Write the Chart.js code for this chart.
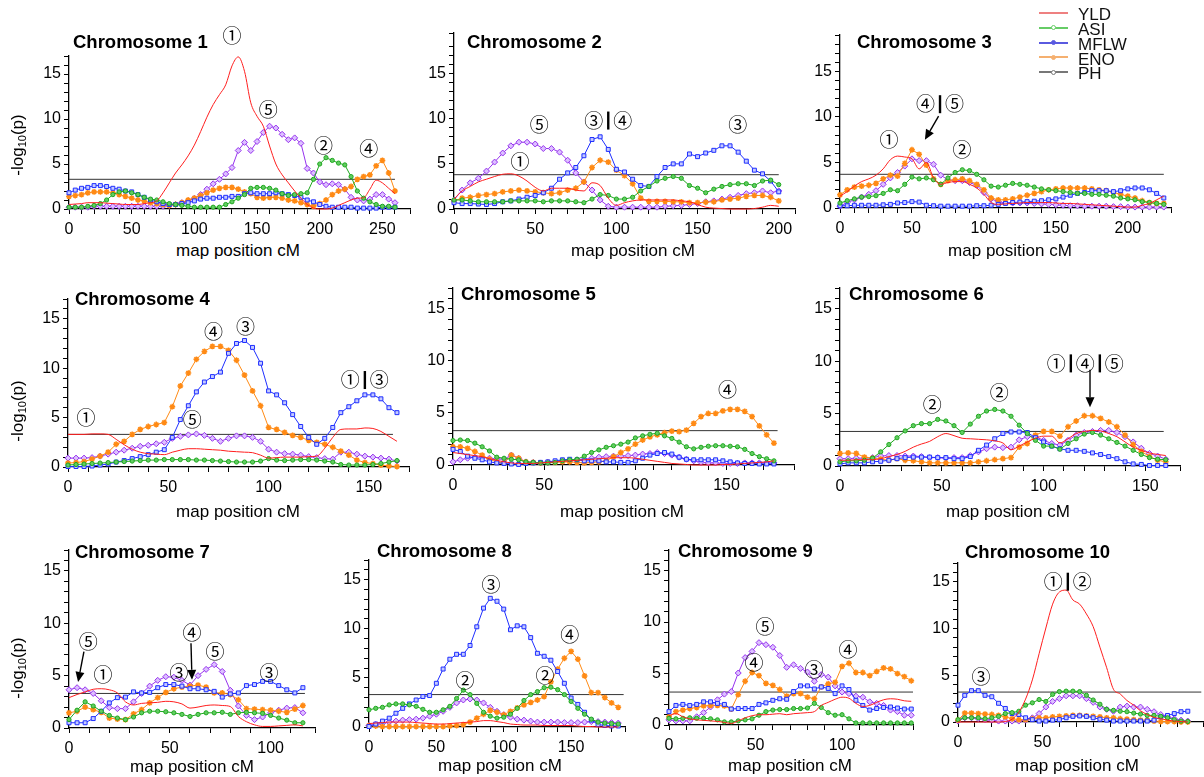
<!DOCTYPE html>
<html>
<head>
<meta charset="utf-8">
<script src="https://cdn.jsdelivr.net/npm/chart.js@4.4.1/dist/chart.umd.min.js"></script>
<style>
html, body { margin: 0; padding: 0; background: #fff; }
body { width: 1204px; height: 777px; position: relative; overflow: hidden; font-family: "Liberation Sans", Arial, sans-serif; color: #000; }
canvas { position: absolute; }
.title { position: absolute; font-weight: bold; font-size: 18.5px; line-height: 18px; white-space: nowrap; }
.xlab { position: absolute; font-size: 17px; line-height: 17px; white-space: nowrap; transform: translateX(-50%); }
.ylab { position: absolute; font-size: 17px; line-height: 17px; white-space: nowrap; transform: translate(-50%, -50%) rotate(-90deg); }
.ylab sub { font-size: 11px; vertical-align: -3px; }
.lg-line { position: absolute; height: 2px; width: 29px; }
.lg-dot { position: absolute; width: 5px; height: 5px; border-radius: 50%; box-sizing: border-box; }
.lg-text { position: absolute; font-size: 17px; line-height: 17px; color: #111; }
</style>
</head>
<body>
<script>
// traits
const traits = ['YLD', 'ASI', 'MFLW', 'ENO', 'PH'];

// chromosome 1
const chr1_cM = [0,5,10,15,20,25,30,35,40,45,50,55,60,65,70,75,80,85,90,95,100,105,110,115,120,125,130,135,140,145,150,155,160,165,170,175,180,185,190,195,200,205,210,215,220,225,230,235,240,245,250,255,260];
const chr1_YLD = [0.5,0.55,0.6,0.7,0.7,0.7,0.65,0.6,0.55,0.5, 0.5,0.5,0.6,0.7,0.9,1.8,2.9,4.0,4.9,5.9, 7.1,8.6,10.2,11.6,12.7,13.8,15.9,16.9,15.3,11.8, 10.3,9.2,7.0,5.0,3.8,2.9,2.0,1.2,0.5,0.1, 0,0,0.1,0.4,0.7,1.0,1.2,1.25,2.2,3.2, 2.9,2.3,1.7];
const chr1_ASI = [0.2,0.2,0.2,0.3,0.4,0.6,1.0,1.6,1.9,2.0, 1.8,1.6,1.3,1.1,1.0,0.8,0.6,0.5,0.4,0.3, 0.2,0.2,0.2,0.2,0.2,0.5,0.8,1.2,1.6,2.3, 2.4,2.4,2.3,2.1,1.7,1.5,1.6,1.7,1.8,3.3, 5.0,5.7,5.4,5.1,4.9,3.6,2.0,1.2,0.8,0.5, 0.3,0.3,0.2];
const chr1_MFLW = [1.8,2.1,2.3,2.4,2.6,2.6,2.5,2.3,2.2,2.0, 1.9,1.6,1.3,1.0,0.8,0.6,0.5,0.5,0.6,0.7, 0.9,1.1,1.2,1.2,1.3,1.3,1.4,1.4,1.7,1.8, 1.7,1.7,1.7,1.8,1.7,1.6,1.5,1.3,1.0,0.8, 0.5,0.3,0.2,0.2,0.2,0.2,0.1,0.1,0.1,0.1, 0.2,0.2,0.2];
const chr1_ENO = [1.4,1.5,1.6,1.8,1.9,1.9,1.9,1.8,1.6,1.4, 1.2,1.0,0.9,0.7,0.6,0.5,0.4,0.5,0.7,1.0, 1.2,1.5,1.8,2.1,2.3,2.4,2.4,2.2,1.9,1.7, 1.3,1.2,1.3,1.3,1.2,1.0,0.9,0.7,0.5,0.3, 0.6,1.0,1.6,2.0,2.2,2.5,3.3,3.6,3.8,4.8, 5.4,4.0,2.0];
const chr1_PH = [0.2,0.2,0.2,0.2,0.3,0.3,0.3,0.3,0.3,0.3, 0.3,0.3,0.3,0.3,0.3,0.3,0.4,0.5,0.7,0.9, 1.2,1.6,2.2,2.8,3.3,3.9,4.6,6.5,7.4,6.5, 7.5,8.5,9.2,9.0,8.3,7.7,7.9,7.3,4.5,4.0, 3.0,2.7,2.8,2.7,2.2,1.3,1.0,0.9,1.1,1.6, 1.6,1.1,0.7];

// chromosome 2
const chr2_cM = [0,5,10,15,20,25,30,35,40,45,50,55,60,65,70,75,80,85,90,95,100,105,110,115,120,125,130,135,140,145,150,155,160,165,170,175,180,185,190,195,200];
const chr2_YLD = [1.1,2.0,2.5,3.0,3.3,3.6,3.85,3.9,3.65,3.1, 2.4,2.0,2.3,2.3,2.3,2.1,2.0,2.9,2.6,1.2, 0.4,0.7,0.9,1.0,1.0,1.0,1.0,1.0,0.9,0.8, 0.5,0.2,0.1,0.05,0,0,0,0.05,0.2,0.4, 0.3];
const chr2_ASI = [1.0,1.0,0.9,0.8,0.8,0.8,0.8,0.9,0.9,0.9, 0.9,0.8,0.9,0.9,0.9,0.8,0.7,1.1,1.6,1.5, 1.1,1.1,1.3,2.0,2.5,3.1,3.4,3.6,3.4,2.6, 2.3,1.8,2.2,2.5,2.7,2.8,2.8,2.6,3.1,3.2, 2.7];
const chr2_MFLW = [0.7,0.6,0.6,0.55,0.5,0.6,0.8,0.9,1.1,1.3, 1.5,1.8,2.3,3.3,4.0,4.6,5.9,7.7,8.0,6.6, 4.4,4.1,3.3,2.6,2.5,3.6,4.6,5.0,5.0,6.1, 5.8,6.2,6.5,7.0,7.0,6.3,5.3,4.3,3.9,3.1, 1.9];
const chr2_ENO = [0.9,1.2,1.3,1.5,1.6,1.7,1.9,2.0,2.1,2.0, 1.9,1.8,1.7,1.8,2.1,2.3,3.0,4.6,5.4,5.2, 4.3,3.7,2.8,1.2,0.85,0.85,0.85,0.8,0.8,0.7, 0.7,0.75,0.8,1.0,1.1,1.2,1.4,1.5,1.5,1.3, 0.9];
const chr2_PH = [1.0,2.1,2.9,3.4,4.2,5.2,6.2,7.0,7.4,7.4, 7.2,6.7,6.7,6.3,5.4,4.0,3.0,2.1,1.0,0.3, 0.2,0.2,0.2,0.2,0.2,0.2,0.3,0.35,0.4,0.5, 0.6,0.8,0.9,1.1,1.3,1.5,1.7,1.8,2.0,1.8, 2.0];

// chromosome 3
const chr3_cM = [0,5,10,15,20,25,30,35,40,45,50,55,60,65,70,75,80,85,90,95,100,105,110,115,120,125,130,135,140,145,150,155,160,165,170,175,180,185,190,195,200,205,210,215,220,225];
const chr3_YLD = [1.3,1.8,2.4,2.9,3.2,3.6,4.3,5.3,5.7,5.6, 5.4,4.3,5.0,3.3,2.6,2.8,2.9,2.9,2.6,2.2, 1.5,0.6,0.4,0.45,0.5,0.55,0.6,0.6,0.6,0.6, 0.55,0.5,0.5,0.45,0.4,0.35,0.3,0.25,0.2,0.15, 0.1,0.1,0.3,0.5,0.9,1.3];
const chr3_ASI = [0.55,0.8,1.0,1.2,1.25,1.35,1.6,2.0,1.9,2.6, 3.4,3.2,3.3,3.1,2.6,3.3,3.9,4.2,4.1,3.7, 3.1,2.4,2.3,2.5,2.7,2.6,2.5,2.3,2.1,2.0, 1.9,1.8,1.7,1.6,1.6,1.5,1.5,1.4,1.3,1.1, 1.0,0.9,0.7,0.6,0.5,0.4];
const chr3_MFLW = [0.25,0.25,0.3,0.3,0.3,0.3,0.35,0.4,0.55,0.6, 0.7,0.65,0.3,0.25,0.2,0.2,0.2,0.2,0.2,0.25, 0.25,0.3,0.4,0.5,0.6,0.65,0.7,0.75,0.8,0.9, 1.0,1.2,1.4,1.6,1.7,1.9,1.9,1.9,1.8,1.9, 2.1,2.2,2.2,2.0,1.6,1.1];
const chr3_ENO = [1.45,2.0,2.3,2.4,2.5,2.7,3.2,3.6,3.5,4.9, 6.4,5.9,4.7,3.2,2.6,3.0,3.1,3.2,3.0,2.6, 2.0,1.1,0.9,0.9,1.0,1.2,1.4,1.6,1.8,2.0, 2.1,2.2,2.2,2.2,2.2,2.1,2.0,1.9,1.7,1.5, 1.3,1.1,0.8,0.6,0.5,0.5];
const chr3_PH = [0.2,0.6,0.9,1.2,1.5,1.9,2.6,3.3,3.9,4.6, 5.4,5.2,5.2,4.8,3.6,3.1,3.0,3.0,2.8,2.5, 1.7,1.0,0.7,0.55,0.55,0.55,0.55,0.5,0.45,0.4, 0.35,0.3,0.25,0.25,0.2,0.2,0.2,0.2,0.15,0.15, 0.1,0.1,0.1,0.1,0.1,0.1];

// chromosome 4
const chr4_cM = [0,4,8,12,16,20,24,28,32,36,40,44,48,52,56,60,64,68,72,76,80,84,88,92,96,100,104,108,112,116,120,124,128,132,136,140,144,148,152,156,160,164];
const chr4_YLD = [3.3,3.3,3.3,3.35,3.35,3.3,2.8,2.25,1.8,1.5, 1.35,1.3,1.25,1.5,1.7,1.85,1.85,1.8,1.75,1.7, 1.6,1.55,1.5,1.45,1.2,0.9,0.95,1.0,1.0,1.0, 1.05,1.1,1.9,3.0,3.8,3.85,3.85,3.95,3.9,3.6, 3.1,2.6];
const chr4_ASI = [0.2,0.25,0.3,0.35,0.4,0.45,0.5,0.55,0.6,0.65, 0.7,0.7,0.75,0.75,0.75,0.75,0.7,0.7,0.65,0.6, 0.55,0.5,0.5,0.5,0.6,0.85,0.7,0.65,0.7,0.75, 0.75,0.7,0.6,0.5,0.25,0.2,0.2,0.2,0.25,0.35, 0.5,0.65];
const chr4_MFLW = [0.05,0.05,0.05,0.1,0.2,0.3,0.5,0.65,0.85,1.05, 1.25,1.5,1.75,3.0,4.8,6.2,7.6,8.6,9.15,9.6, 11.5,12.5,12.8,12.1,10.5,7.7,7.3,6.5,5.3,4.1, 3.0,2.3,2.9,4.0,5.5,6.1,6.7,7.3,7.3,6.9, 6.0,5.5];
const chr4_ENO = [0.4,0.45,0.55,0.8,1.1,1.5,2.3,2.6,3.3,3.8, 4.1,4.3,4.5,6.1,8.2,9.5,10.9,11.7,12.2,12.2, 11.8,10.8,9.3,7.7,6.2,4.0,3.8,3.5,3.2,3.0, 2.7,2.5,2.3,2.0,1.6,1.2,0.7,0.45,0.35,0.2, 0.1,0.05];
const chr4_PH = [0.9,0.9,0.9,0.95,1.1,1.3,1.5,1.7,1.9,2.1, 2.2,2.35,2.5,2.9,3.1,3.25,3.35,3.2,2.9,2.6, 2.9,3.15,3.15,3.0,2.6,1.8,1.5,1.35,1.3,1.2, 1.05,0.95,0.85,0.8,1.5,1.5,1.3,1.1,1.0,0.9, 0.8,0.6];

// chromosome 5
const chr5_cM = [0,4,8,12,16,20,24,28,32,36,40,44,48,52,56,60,64,68,72,76,80,84,88,92,96,100,104,108,112,116,120,124,128,132,136,140,144,148,152,156,160,164,168,172,176];
const chr5_YLD = [1.2,1.1,1.0,0.9,0.8,0.6,0.45,0.3,0.2,0.15, 0.15,0.15,0.2,0.25,0.3,0.35,0.4,0.45,0.5,0.55, 0.6,0.65,0.7,0.7,0.7,0.65,0.55,0.45,0.35,0.25, 0.15,0.1,0.05,0,0,0,0,0.05,0.05,0.1, 0.15,0.2,0.25,0.3,0.4];
const chr5_ASI = [2.35,2.4,2.35,2.1,1.75,1.35,0.75,0.65,0.55,0.5, 0.3,0.25,0.2,0.2,0.25,0.4,0.5,0.55,0.85,1.2, 1.45,1.7,1.85,2.0,2.2,2.6,2.8,2.95,3.05,2.8, 2.55,2.2,1.75,1.55,1.7,1.8,1.85,1.85,1.8,1.75, 1.5,1.1,0.8,0.6,0.4];
const chr5_MFLW = [1.5,1.3,0.85,0.65,0.5,0.3,0.2,0.15,0.1,0.05, 0.15,0.2,0.25,0.3,0.4,0.5,0.55,0.5,0.4,0.4, 0.4,0.3,0.3,0.25,0.25,0.4,0.65,0.95,1.1,1.2, 1.05,0.75,0.55,0.5,0.5,0.5,0.5,0.4,0.3,0.2, 0.15,0.15,0.1,0.1,0.1];
const chr5_ENO = [1.75,1.75,1.6,1.3,0.95,0.55,0.3,0.2,0.95,0.65, 0.3,0.25,0.2,0.25,0.25,0.3,0.3,0.25,0.2,0.25, 0.3,0.4,0.8,1.2,1.55,2.0,2.4,2.7,2.9,3.1, 3.25,3.2,3.35,4.0,4.65,4.95,4.95,5.2,5.35,5.35, 5.15,4.65,3.75,2.9,2.1];
const chr5_PH = [0.3,0.5,0.65,0.75,0.75,0.65,0.6,0.55,0.95,0.65, 0.3,0.25,0.2,0.25,0.3,0.4,0.4,0.5,0.55,0.65, 0.75,0.8,0.85,0.85,0.9,0.95,1.05,1.1,1.2,1.1, 0.95,0.75,0.55,0.4,0.25,0.2,0.2,0.15,0.15,0.15, 0.2,0.2,0.2,0.2,0.2];

// chromosome 6
const chr6_cM = [0,4,8,12,16,20,24,28,32,36,40,44,48,52,56,60,64,68,72,76,80,84,88,92,96,100,104,108,112,116,120,124,128,132,136,140,144,148,152,156,160];
const chr6_YLD = [0.55,0.55,0.6,0.6,0.6,0.7,0.9,1.1,1.4,1.8, 2.1,2.35,2.8,3.1,2.9,2.65,2.6,2.55,2.5,2.4, 2.2,1.55,1.9,2.3,2.65,2.85,2.85,2.2,2.6,3.1, 3.3,3.4,3.35,3.1,2.8,2.3,1.8,1.5,1.25,1.1, 1.0];
const chr6_ASI = [0.4,0.5,0.5,0.55,0.75,1.35,2.05,2.7,3.35,3.85, 4.05,4.05,4.45,4.3,3.85,3.2,4.0,4.75,5.25,5.4, 5.25,4.75,3.9,3.1,2.45,1.9,1.9,1.6,2.15,2.6, 3.05,3.2,2.95,2.6,2.25,1.9,1.5,1.1,0.8,0.65, 0.6];
const chr6_MFLW = [0.2,0.3,0.3,0.3,0.4,0.45,0.55,0.7,0.8,0.85, 0.85,0.85,0.8,0.8,0.7,0.7,0.9,1.5,2.0,2.6, 3.1,3.25,3.25,3.2,2.7,2.3,1.9,1.65,1.5,1.5, 1.4,1.25,1.1,0.9,0.7,0.4,0.2,0.15,0.05,0.05, 0.05];
const chr6_ENO = [1.2,1.25,1.2,0.85,0.75,0.65,0.55,0.7,0.55,0.5, 0.4,0.3,0.3,0.3,0.3,0.3,0.3,0.4,0.5,0.6, 0.7,0.8,1.8,2.15,2.95,3.3,3.3,2.85,3.75,4.3, 4.8,4.8,4.55,4.2,3.75,2.95,2.05,1.4,0.9,0.55, 0.4];
const chr6_PH = [0.7,0.7,0.75,0.75,0.8,0.95,1.0,1.0,0.95,0.95, 0.9,0.8,0.8,0.75,0.8,0.8,1.0,1.35,1.65,1.8, 1.75,1.8,2.5,2.8,2.8,2.45,2.15,2.0,2.45,2.95, 3.2,3.3,3.4,3.4,3.2,2.8,2.3,1.7,1.2,0.95, 0.65];

// chromosome 7
const chr7_cM = [0,4,8,12,16,20,24,28,32,36,40,44,48,52,56,60,64,68,72,76,80,84,88,92,96,100,104,108,112,116];
const chr7_YLD = [2.9,3.2,3.45,3.7,3.75,3.65,3.35,2.5,2.2,2.35, 2.4,2.45,2.55,2.5,2.3,1.9,2.0,2.15,2.2,2.15, 2.05,1.1,0.6,0.3,0.15,0.15,0.2,0.25,0.3,0.2];
const chr7_ASI = [0.8,1.7,2.5,2.1,1.6,1.2,0.95,0.8,1.05,1.45, 1.6,1.6,1.55,1.45,1.3,1.1,1.3,1.45,1.45,1.5, 1.3,1.45,1.5,1.45,1.4,1.2,0.95,0.75,0.5,0.5];
const chr7_MFLW = [0.5,0.5,0.5,0.9,1.6,2.4,2.9,2.95,3.45,3.35, 3.4,3.85,4.15,4.15,4.0,3.75,3.75,3.65,3.5,2.95, 3.25,3.35,4.05,4.15,4.45,4.45,4.05,3.65,3.35,3.85];
const chr7_ENO = [1.45,1.6,2.0,1.75,1.5,0.95,0.85,0.8,1.35,1.75, 2.4,2.9,3.4,3.75,3.9,4.0,4.1,3.9,3.35,3.35, 3.2,2.7,1.85,1.8,1.75,1.7,1.6,1.5,1.8,2.15];
const chr7_PH = [3.65,3.85,3.65,3.3,2.6,1.95,1.85,1.85,2.5,3.3, 4.0,4.55,4.9,4.85,4.55,4.1,5.0,5.6,6.05,5.4, 3.6,2.1,1.2,0.8,1.05,1.45,1.7,1.9,1.95,1.45];

// chromosome 8
const chr8_cM = [0,5,10,15,20,25,30,35,40,45,50,55,60,65,70,75,80,85,90,95,100,105,110,115,120,125,130,135,140,145,150,155,160,165,170,175,180,185];
const chr8_YLD = [0.35,0.4,0.45,0.5,0.5,0.5,0.5,0.45,0.4,0.35, 0.3,0.3,0.35,0.4,0.45,0.5,0.55,0.65,0.65,0.55, 0.45,0.3,0.25,0.2,0.2,0.2,0.15,0.15,0.15,0.15, 0.15,0.1,0.05,0.05,0,0,0,0];
const chr8_ASI = [1.75,1.9,2.0,2.25,2.35,2.35,2.25,2.1,1.8,1.5, 1.5,1.75,2.1,2.9,3.75,3.3,2.4,1.5,1.1,0.9, 1.0,1.3,1.9,2.7,3.3,3.6,4.0,4.05,3.8,3.3, 2.6,1.9,1.3,0.8,0.5,0.4,0.35,0.3];
const chr8_MFLW = [0.05,0.3,0.6,0.9,1.4,1.9,2.35,2.75,3.1,3.2, 4.45,5.9,6.9,7.4,7.4,8.3,10.2,12.1,13.1,12.8, 12.0,9.9,10.3,10.2,9.1,7.5,7.2,6.8,5.65,4.45, 2.95,2.3,1.5,0.7,0.25,0.15,0.1,0.1];
const chr8_ENO = [0.15,0.1,0.05,0.05,0.05,0.05,0.05,0.05,0.05,0.05, 0.05,0.05,0.1,0.15,0.25,0.5,0.9,1.3,1.7,1.5, 1.25,1.6,1.95,2.25,2.5,2.75,3.1,4.6,5.9,7.0, 7.7,6.9,5.2,3.5,3.5,3.0,2.45,2.0];
const chr8_PH = [0.15,0.25,0.35,0.5,0.6,0.7,0.75,0.8,0.9,1.1, 1.3,1.6,2.0,2.45,2.75,2.85,2.75,2.45,2.0,1.6, 1.25,1.0,0.8,0.7,0.6,0.5,0.5,0.5,0.5,0.45, 0.45,0.45,0.5,0.55,0.55,0.5,0.45,0.4];

// chromosome 9
const chr9_cM = [0,4,8,12,16,20,24,28,32,36,40,44,48,52,56,60,64,68,72,76,80,84,88,92,96,100,104,108,112,116,120,124,128,132,136,140];
const chr9_YLD = [0.9,1.1,0.8,0.6,0.5,0.45,0.4,0.35,0.25,0.15, 0.4,0.7,0.9,1.0,1.0,1.05,1.1,1.0,1.1,1.15, 1.2,1.3,1.9,2.2,2.5,2.7,2.6,2.1,1.8,1.9, 2.2,2.45,2.55,2.5,2.35,2.3];
const chr9_ASI = [0.65,0.6,0.65,0.7,0.65,0.65,0.6,0.5,0.3,0.3, 0.4,0.5,0.6,0.95,1.3,1.45,1.5,1.5,1.6,1.6, 1.65,2.1,1.7,1.2,0.95,1.0,0.6,0.2,0.2,0.2, 0.2,0.2,0.2,0.2,0.2,0.2];
const chr9_MFLW = [1.3,1.9,2.0,1.9,2.0,2.25,2.25,2.1,2.0,1.55, 1.6,1.6,1.6,2.0,2.15,2.4,2.55,2.5,3.25,3.8, 3.8,3.5,3.7,3.55,3.05,3.8,3.45,2.4,1.9,1.45, 1.6,1.7,1.75,1.65,1.55,1.55];
const chr9_ENO = [0.8,1.3,1.45,1.6,1.7,1.85,1.9,1.9,1.85,1.55, 2.95,4.25,5.1,4.8,4.05,3.85,3.45,2.8,3.05,3.05, 2.7,2.55,3.7,4.0,4.15,5.7,6.0,5.1,5.1,4.8, 5.2,5.55,5.45,5.0,4.7,4.3];
const chr9_PH = [0.5,0.4,0.4,0.4,0.8,1.2,1.75,2.45,3.0,3.25, 5.05,6.55,7.15,8.0,7.8,7.55,6.75,5.6,5.85,5.5, 5.15,4.25,4.9,4.65,3.8,3.2,3.05,2.8,2.7,2.25, 2.1,1.9,1.45,1.3,0.95,0.95];

// chromosome 10
const chr10_cM = [0,4,8,12,16,20,24,28,32,36,40,44,48,52,56,60,64,68,72,76,80,84,88,92,96,100,104,108,112,116,120,124,128,132,136];
const chr10_YLD = [0,0,0,0,0,0,0,0.05,0.3,1.05, 2.45,4.5,7.3,10.05,12.6,13.9,14.1,13.05,12.6,11.55, 10.2,8.0,5.8,3.5,3.0,2.3,1.8,1.2,0.8,0.5, 0.35,0.2,0.1,0.05,0];
const chr10_ASI = [0.25,0.45,0.45,0.45,0.35,0.45,0.6,0.9,1.0,1.15, 1.8,2.05,2.4,2.2,2.95,3.25,3.3,3.3,3.25,2.85, 2.35,1.9,1.35,1.25,1.15,1.1,0.95,0.85,0.7,0.7, 0.6,0.45,0.25,0.1,0.05];
const chr10_MFLW = [1.8,2.85,3.35,3.35,2.85,2.7,2.0,1.45,0.9,0.8, 0.45,0.25,0.1,0.1,0.2,0.25,0.45,0.6,0.65,0.6, 0.45,0.3,0.2,0.1,0.1,0.1,0.1,0.1,0.1,0.2, 0.55,0.7,0.9,1.1,1.15];
const chr10_ENO = [0.2,0.95,0.95,0.9,0.85,0.8,0.7,0.55,0.35,0.25, 0.25,0.35,0.45,0.45,0.55,0.6,0.65,0.7,0.7,0.65, 0.6,0.55,0.45,0.45,0.35,0.3,0.25,0.2,0.2,0.1, 0.05,0.05,0.05,0,0];
const chr10_PH = [0.1,0.45,0.45,0.35,0.25,0.2,0.1,0.1,0.1,0.1, 0.2,0.45,0.9,1.6,2.2,2.5,2.8,2.8,2.8,2.5, 2.1,1.6,1.35,1.15,1.6,1.7,1.6,1.6,1.35,1.1, 0.8,0.55,0.35,0.2,0.1];

// significance thresholds (-log10 p) and the map length they span
const thresholds = [3.3, 3.8, 3.7, 3.3, 3.3, 3.3, 3.3, 3.3, 3.2, 3.2];
const thresholdEnd = [260, 200, 225, 162, 178, 159, 117, 189, 141, 144];

const chromosomes = [
  {name: 'Chromosome 1',  cM: chr1_cM,  YLD: chr1_YLD,  ASI: chr1_ASI,  MFLW: chr1_MFLW,  ENO: chr1_ENO,  PH: chr1_PH},
  {name: 'Chromosome 2',  cM: chr2_cM,  YLD: chr2_YLD,  ASI: chr2_ASI,  MFLW: chr2_MFLW,  ENO: chr2_ENO,  PH: chr2_PH},
  {name: 'Chromosome 3',  cM: chr3_cM,  YLD: chr3_YLD,  ASI: chr3_ASI,  MFLW: chr3_MFLW,  ENO: chr3_ENO,  PH: chr3_PH},
  {name: 'Chromosome 4',  cM: chr4_cM,  YLD: chr4_YLD,  ASI: chr4_ASI,  MFLW: chr4_MFLW,  ENO: chr4_ENO,  PH: chr4_PH},
  {name: 'Chromosome 5',  cM: chr5_cM,  YLD: chr5_YLD,  ASI: chr5_ASI,  MFLW: chr5_MFLW,  ENO: chr5_ENO,  PH: chr5_PH},
  {name: 'Chromosome 6',  cM: chr6_cM,  YLD: chr6_YLD,  ASI: chr6_ASI,  MFLW: chr6_MFLW,  ENO: chr6_ENO,  PH: chr6_PH},
  {name: 'Chromosome 7',  cM: chr7_cM,  YLD: chr7_YLD,  ASI: chr7_ASI,  MFLW: chr7_MFLW,  ENO: chr7_ENO,  PH: chr7_PH},
  {name: 'Chromosome 8',  cM: chr8_cM,  YLD: chr8_YLD,  ASI: chr8_ASI,  MFLW: chr8_MFLW,  ENO: chr8_ENO,  PH: chr8_PH},
  {name: 'Chromosome 9',  cM: chr9_cM,  YLD: chr9_YLD,  ASI: chr9_ASI,  MFLW: chr9_MFLW,  ENO: chr9_ENO,  PH: chr9_PH},
  {name: 'Chromosome 10', cM: chr10_cM, YLD: chr10_YLD, ASI: chr10_ASI, MFLW: chr10_MFLW, ENO: chr10_ENO, PH: chr10_PH}
];

// QTL labels, in data coordinates of each panel
const notes = [
  {labels: [{t:'①', x:130, y:19.3}, {t:'⑤', x:159, y:11.0}, {t:'②', x:203, y:7.0}, {t:'④', x:239, y:6.7}], arrows: []},
  {labels: [{t:'⑤', x:52.5, y:9.3}, {t:'①', x:40.7, y:5.2}, {t:'③|④', x:95, y:9.8}, {t:'③', x:174.7, y:9.3}], arrows: []},
  {labels: [{t:'④|⑤', x:69.5, y:11.4}, {t:'①', x:34, y:7.5}, {t:'②', x:84.8, y:6.4}], arrows: [[68.5, 10.1, 59, 7.5]]},
  {labels: [{t:'①', x:9, y:5.0}, {t:'④', x:72.5, y:13.7}, {t:'③', x:88.5, y:14.2}, {t:'⑤', x:62, y:4.8}, {t:'①|③', x:148, y:8.8}], arrows: []},
  {labels: [{t:'④', x:150.5, y:7.2}], arrows: []},
  {labels: [{t:'②', x:45.3, y:5.8}, {t:'②', x:78.2, y:7.0}, {t:'①|④|⑤', x:120.5, y:9.8}], arrows: [[122.8, 9.2, 122.8, 5.6]]},
  {labels: [{t:'⑤', x:9.5, y:8.2}, {t:'①', x:16.9, y:5.1}, {t:'③', x:54.6, y:5.3}, {t:'④', x:61, y:9.1}, {t:'⑤', x:72.4, y:7.3}, {t:'③', x:99.2, y:5.3}],
   arrows: [[7.4, 7.3, 4.5, 4.4], [60.5, 8.1, 61, 4.6]]},
  {labels: [{t:'③', x:90.6, y:14.5}, {t:'④', x:149, y:9.4}, {t:'②', x:71.3, y:4.7}, {t:'②', x:130.7, y:5.2}], arrows: []},
  {labels: [{t:'⑤', x:55.5, y:9.5}, {t:'④', x:49.1, y:6.0}, {t:'③', x:83.8, y:5.4}, {t:'④', x:103.5, y:7.3}], arrows: []},
  {labels: [{t:'①|②', x:65, y:15.0}, {t:'③', x:13.6, y:4.8}], arrows: []}
];

// panel geometry on the page (plot area edges in px)
const layout = [
  {l:69,  t:56,  r:410,  b:209, xMax:272, yMax:17,   tx:73,  tb:48,  xc:238,  xb:256},
  {l:454, t:33,  r:795,  b:209, xMax:210, yMax:19.5, tx:467, tb:48,  xc:633,  xb:256},
  {l:840, t:35,  r:1171, b:208, xMax:230, yMax:19,   tx:857, tb:48,  xc:1010, xb:256},
  {l:68,  t:299, r:409,  b:467, xMax:170, yMax:17,   tx:75,  tb:305, xc:238,  xb:517},
  {l:453, t:288, r:794,  b:465, xMax:187, yMax:17,   tx:461, tb:300, xc:622,  xb:517},
  {l:840, t:288, r:1180, b:466, xMax:167, yMax:17,   tx:849, tb:300, xc:1008, xb:517},
  {l:69,  t:550, r:315,  b:728, xMax:122, yMax:17,   tx:75,  tb:558, xc:192,  xb:772},
  {l:369, t:560, r:625,  b:727, xMax:190, yMax:17,   tx:377, tb:557, xc:500,  xb:771},
  {l:669, t:550, r:913,  b:725, xMax:141, yMax:17,   tx:678, tb:557, xc:790,  xb:771},
  {l:958, t:563, r:1203, b:722, xMax:145, yMax:17,   tx:965, tb:558, xc:1077, xb:771}
];
const yTitles = [{x:20, y:145}, {x:20, y:411}, {x:20, y:668}];

const styles = {
  YLD:  {color: '#ff1e1e'},
  ASI:  {color: '#1ea81e', fill: '#62cc62', shape: 'circle',  r: 2.1},
  MFLW: {color: '#1f2fff', fill: '#c4caff', shape: 'rect',    r: 2.8},
  ENO:  {color: '#ff8a14', fill: '#ffb060', shape: 'star',    r: 2.9},
  PH:   {color: '#9632ee', fill: '#dcc0ff', shape: 'rectRot', r: 3.0}
};
const legendColors = {YLD: '#ee8080', ASI: '#66cc66', MFLW: '#5a5ae0', ENO: '#f5b070', PH: '#777777'};

Chart.defaults.font.family = '"Liberation Sans", Arial, sans-serif';
Chart.defaults.color = '#000';

function arrow(ctx, x1, y1, x2, y2) {
  const a = Math.atan2(y2 - y1, x2 - x1), h = 10, w = 4.5;
  const bx = x2 - h * Math.cos(a), by = y2 - h * Math.sin(a);
  ctx.beginPath(); ctx.moveTo(x1, y1); ctx.lineTo(bx, by); ctx.stroke();
  ctx.beginPath(); ctx.moveTo(x2, y2);
  ctx.lineTo(bx + w * Math.sin(a), by - w * Math.cos(a));
  ctx.lineTo(bx - w * Math.sin(a), by + w * Math.cos(a));
  ctx.closePath(); ctx.fill();
}

// circled numbers, with a heavy bar between grouped QTL
function drawNote(ctx, text, cx, cy) {
  const parts = text.split('|');
  const gap = 10;
  const widths = parts.map(p => ctx.measureText(p).width);
  const total = widths.reduce((a, b) => a + b, 0) + gap * (parts.length - 1);
  let x = cx - total / 2;
  parts.forEach((p, k) => {
    ctx.fillText(p, x + widths[k] / 2, cy);
    x += widths[k];
    if (k < parts.length - 1) {
      ctx.fillRect(x + gap / 2 - 1.2, cy - 9, 2.4, 18);
      x += gap;
    }
  });
}

const notesPlugin = {
  id: 'notes',
  afterDatasetsDraw(chart, args, opts) {
    const {ctx, scales: {x, y}} = chart;
    ctx.save();
    ctx.fillStyle = '#000'; ctx.strokeStyle = '#000'; ctx.lineWidth = 1.4;
    ctx.font = '19px "Noto Sans CJK JP", "DejaVu Sans", sans-serif';
    ctx.textAlign = 'center'; ctx.textBaseline = 'middle';
    (opts.labels || []).forEach(n => drawNote(ctx, n.t, x.getPixelForValue(n.x), y.getPixelForValue(n.y)));
    (opts.arrows || []).forEach(a => arrow(ctx, x.getPixelForValue(a[0]), y.getPixelForValue(a[1]),
                                           x.getPixelForValue(a[2]), y.getPixelForValue(a[3])));
    ctx.restore();
  }
};

const PAD_TOP = 45, PAD_RIGHT = 8, YAXIS_W = 60, XAXIS_H = 30;

chromosomes.forEach((chr, i) => {
  const L = layout[i];
  const cv = document.createElement('canvas');
  cv.width = (L.r - L.l) + YAXIS_W + PAD_RIGHT;
  cv.height = (L.b - L.t) + PAD_TOP + XAXIS_H;
  cv.style.left = (L.l - YAXIS_W) + 'px';
  cv.style.top = (L.t - PAD_TOP) + 'px';
  document.body.appendChild(cv);

  const datasets = [];
  ['YLD', 'ASI', 'MFLW', 'ENO', 'PH'].forEach((k, j) => {
    const s = styles[k];
    datasets.push({
      label: k,
      data: chr.cM.map((x, n) => ({x: x, y: chr[k][n]})),
      borderColor: s.color,
      borderWidth: 1,
      backgroundColor: s.fill || s.color,
      pointStyle: s.shape || 'circle',
      pointRadius: s.shape ? s.r : 0,
      pointBorderColor: s.color,
      pointBackgroundColor: s.fill || s.color,
      pointBorderWidth: k === 'ENO' ? 1.5 : 1,
      tension: 0,
      cubicInterpolationMode: k === 'YLD' ? 'monotone' : 'default',
      fill: false,
      clip: false,
      order: j
    });
  });
  datasets.push({
    label: 'threshold',
    data: [{x: 0, y: thresholds[i]}, {x: thresholdEnd[i], y: thresholds[i]}],
    borderColor: '#333', borderWidth: 1, pointRadius: 0, fill: false, order: 10
  });

  const tickGrid = {drawOnChartArea: false, drawTicks: true, tickLength: 5, color: '#000', lineWidth: 1};
  new Chart(cv, {
    type: 'line',
    data: {datasets},
    options: {
      responsive: false, animation: false, events: [],
      layout: {padding: {top: PAD_TOP, right: PAD_RIGHT, left: 0, bottom: 0}},
      plugins: {legend: {display: false}, tooltip: {enabled: false}, notes: notes[i]},
      scales: {
        x: {
          type: 'linear', min: 0, max: L.xMax,
          afterFit(s) { s.height = XAXIS_H; },
          ticks: {stepSize: 10, autoSkip: false, maxRotation: 0, padding: 6, color: '#000', font: {size: 16},
                  callback: v => (v % 50 === 0 ? v : '')},
          grid: tickGrid, border: {color: '#000', width: 1.3}
        },
        y: {
          type: 'linear', min: 0, max: L.yMax,
          afterFit(s) { s.width = YAXIS_W; },
          ticks: {stepSize: 1, autoSkip: false, padding: 3, color: '#000', font: {size: 16},
                  callback: v => (v % 5 === 0 ? v : '')},
          grid: tickGrid, border: {color: '#000', width: 1.3}
        }
      }
    },
    plugins: [notesPlugin]
  });

  const t = document.createElement('div');
  t.className = 'title';
  t.textContent = chr.name;
  t.style.left = L.tx + 'px';
  t.style.top = (L.tb - 15.2) + 'px';
  document.body.appendChild(t);

  const xl = document.createElement('div');
  xl.className = 'xlab';
  xl.textContent = 'map position cM';
  xl.style.left = L.xc + 'px';
  xl.style.top = (L.xb - 14.4) + 'px';
  document.body.appendChild(xl);
});

yTitles.forEach(p => {
  const d = document.createElement('div');
  d.className = 'ylab';
  d.innerHTML = '-log<sub>10</sub>(p)';
  d.style.left = p.x + 'px';
  d.style.top = p.y + 'px';
  document.body.appendChild(d);
});

// legend (top right)
traits.forEach((k, i) => {
  const cy = 13 + i * 14.8;
  const ln = document.createElement('div');
  ln.className = 'lg-line';
  ln.style.left = '1039px'; ln.style.top = (cy - 1) + 'px';
  ln.style.background = legendColors[k];
  document.body.appendChild(ln);
  if (k !== 'YLD') {
    const d = document.createElement('div');
    d.className = 'lg-dot';
    d.style.left = '1051px'; d.style.top = (cy - 2.5) + 'px';
    d.style.border = '1px solid ' + legendColors[k];
    d.style.background = (k === 'MFLW' || k === 'ENO') ? legendColors[k] : '#fff';
    document.body.appendChild(d);
  }
  const tx = document.createElement('div');
  tx.className = 'lg-text';
  tx.textContent = k;
  tx.style.left = '1078px'; tx.style.top = (cy + 1.5 - 8.3) + 'px';
  document.body.appendChild(tx);
});
</script>
</body>
</html>
